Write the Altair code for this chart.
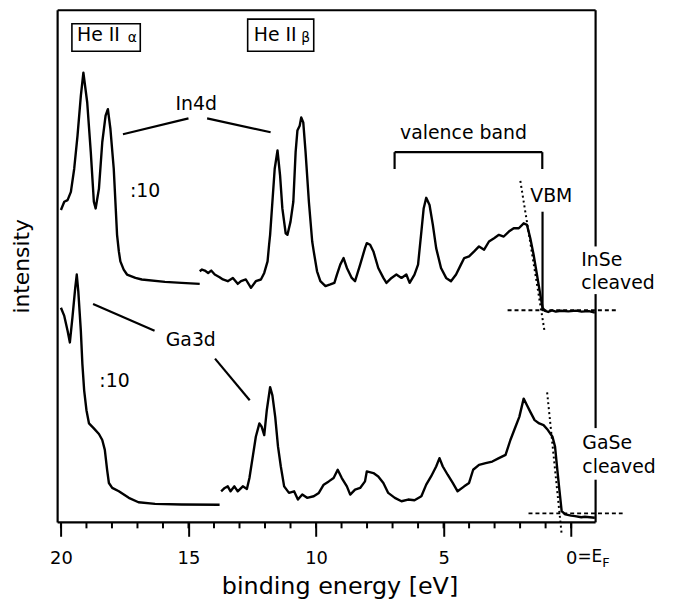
import altair as alt
import pandas as pd

FONT = "DejaVu Sans"

# axis ranges (binding energy in eV, intensity in arbitrary units)
X_MIN, X_MAX = -0.96, 20.13
Y_MIN, Y_MAX = 0, 516

# ---- spectra: (binding energy, intensity) ----
inse_core = [(20.00, 314.7), (19.87, 323), (19.74, 324.7), (19.61, 333), (19.48, 356.3), (19.35, 389.7),
             (19.22, 429.7), (19.12, 453), (18.97, 423), (18.83, 373), (18.71, 323), (18.64, 316.3),
             (18.51, 336.3), (18.38, 383), (18.25, 409.7), (18.16, 416.3), (18.06, 396.3), (17.93, 356.3),
             (17.80, 289.7), (17.73, 273), (17.67, 263), (17.54, 254.7), (17.41, 249.7), (17.08, 246.3),
             (16.83, 244.7), (15.92, 242.3), (15.27, 241.3), (14.56, 240.3)]

inse_vb = [(14.56, 253), (14.47, 254.7), (14.36, 253.7), (14.23, 251.3), (14.11, 253.7), (13.97, 249.7),
           (13.78, 247), (13.65, 244.7), (13.46, 243), (13.26, 246.3), (13.07, 240.3), (12.94, 243),
           (12.75, 244.7), (12.55, 236.3), (12.36, 243), (12.16, 244.7), (12.03, 251.3), (11.90, 263),
           (11.84, 279.7), (11.80, 289.7), (11.71, 323), (11.62, 356.3), (11.51, 374.7), (11.41, 349.7),
           (11.32, 316.3), (11.19, 291.3), (11.12, 289.7), (11.00, 303), (10.89, 323), (10.80, 373),
           (10.73, 394.7), (10.64, 399.7), (10.58, 408), (10.50, 403), (10.41, 373), (10.28, 323),
           (10.15, 283), (10.09, 273), (9.96, 253), (9.83, 243), (9.63, 238), (9.44, 239.7), (9.28, 241.3),
           (9.18, 249.7), (9.05, 259.7), (8.92, 266.3), (8.79, 256.3), (8.60, 246.3), (8.47, 243),
           (8.27, 259.7), (8.08, 276.3), (8.01, 281.3), (7.88, 279.7), (7.75, 273), (7.56, 256.3),
           (7.36, 246.3), (7.24, 241.3), (7.04, 246.3), (6.85, 249.7), (6.65, 246.3), (6.46, 249.7),
           (6.33, 241.3), (6.14, 249.7), (6.00, 259.7), (5.87, 293), (5.78, 316.3), (5.68, 327),
           (5.55, 319.7), (5.42, 299.7), (5.29, 276.3), (5.10, 256.3), (4.90, 246.3), (4.71, 243),
           (4.51, 249.7), (4.32, 259.7), (4.19, 266.3), (4.00, 268), (3.80, 273), (3.61, 278),
           (3.41, 274.7), (3.22, 283), (3.02, 286.3), (2.83, 289.7), (2.64, 288), (2.44, 293),
           (2.25, 296.3), (2.05, 296.3), (1.86, 301.3), (1.73, 299.7), (1.60, 286.3), (1.47, 269.7),
           (1.34, 249.7), (1.21, 229.7), (1.12, 216.3), (1.02, 213), (0.90, 212), (0.75, 213.5),
           (0.60, 212.3), (0.40, 213.2), (0.11, 212.6), (-0.20, 213.3), (-0.41, 212.3), (-0.70, 212.8),
           (-0.93, 211.3)]

gase_core = [(20.00, 216.3), (19.87, 208), (19.74, 193), (19.65, 181.3), (19.55, 206.3), (19.44, 236.3),
             (19.38, 249.7), (19.32, 233), (19.22, 193), (19.16, 159.7), (19.09, 133), (19.00, 113),
             (18.90, 99.7), (18.71, 94.7), (18.51, 89), (18.38, 83), (18.28, 73), (18.19, 53),
             (18.12, 39.7), (17.99, 34.7), (17.73, 31.3), (17.34, 24.7), (16.96, 20.3), (16.31, 18.7),
             (15.27, 18), (13.78, 17.7)]

gase_vb = [(13.72, 31.3), (13.58, 34.7), (13.46, 36.3), (13.35, 31.3), (13.20, 36.3), (13.07, 31.3),
           (12.87, 36.3), (12.71, 33.7), (12.61, 44.7), (12.48, 66.3), (12.36, 86.3), (12.22, 99.7),
           (12.13, 96.3), (12.03, 88), (11.93, 113), (11.80, 136.3), (11.71, 128), (11.60, 106.3),
           (11.49, 76.3), (11.38, 56.3), (11.25, 36.3), (11.06, 29.7), (10.86, 31.3), (10.71, 23),
           (10.54, 28), (10.35, 24.7), (10.09, 26.3), (9.89, 29.7), (9.70, 38), (9.50, 41.3), (9.31, 44.7),
           (9.15, 53), (8.99, 44.7), (8.79, 36.3), (8.66, 28), (8.47, 33), (8.27, 34.7), (8.08, 41.3),
           (8.01, 51.3), (7.75, 49.7), (7.56, 46.3), (7.36, 39.7), (7.17, 29.7), (6.91, 24.7),
           (6.65, 21.3), (6.39, 23), (6.14, 22.3), (5.87, 26.3), (5.68, 38), (5.49, 46.3), (5.29, 56.3),
           (5.16, 64.7), (5.03, 56.3), (4.84, 48), (4.64, 39.7), (4.45, 31.3), (4.19, 36.3), (4.00, 39.7),
           (3.84, 53), (3.61, 58), (3.35, 59.7), (3.09, 61.3), (2.83, 64.7), (2.57, 68), (2.38, 83),
           (2.18, 96.3), (2.03, 106.3), (1.86, 124.7), (1.73, 118), (1.60, 111.3), (1.43, 103),
           (1.25, 99.7), (1.08, 98), (0.91, 93), (0.73, 86.3), (0.63, 76.3), (0.54, 53), (0.46, 33),
           (0.37, 11.3), (0.23, 8), (0.00, 6.8), (-0.15, 6.3), (-0.40, 5.2), (-0.54, 5.7), (-0.93, 4.7)]

# ---- axis ticks ----
major_ticks = [20, 15, 10, 5, 0]
minor_ticks = list(range(0, 21))

# ---- annotation segments (x, y, x2, y2) ----
solid_segments = [(17.57, 391, 15.00, 407), (14.27, 407, 11.78, 393),
                  (18.74, 220, 16.33, 193), (13.96, 165, 12.60, 123),
                  (6.92, 373, 1.13, 373), (6.92, 373, 6.92, 356), (1.13, 373, 1.13, 356),
                  (1.12, 313, 1.12, 213)]
dotted_segments = [(1.99, 344, 1.05, 194), (0.94, 131, 0.37, -12)]
dashed_segments = [(2.49, 213.7, -1.79, 213.7), (1.67, 9, -2.02, 9)]
frame_segments = [(X_MAX, Y_MIN, X_MIN, Y_MIN), (X_MAX, Y_MAX, X_MIN, Y_MAX),
                  (X_MAX, Y_MIN, X_MAX, Y_MAX),
                  (X_MIN, 0, X_MIN, 43), (X_MIN, 95, X_MIN, 230), (X_MIN, 278, X_MIN, Y_MAX)]
boxes = [(19.57, 474.7, 16.89, 502.3), (12.68, 474.7, 10.09, 507)]

# ---- texts (text, x, y, size) ----
left_texts = [("He II", 19.37, 485, 19), ("α", 17.38, 484, 14),
              ("He II", 12.44, 485, 19), ("β", 10.58, 484, 14),
              ("VBM", 1.60, 323, 19),
              ("InSe", -0.40, 258, 19), ("cleaved", -0.40, 235, 19),
              ("GaSe", -0.44, 74, 19), ("cleaved", -0.44, 50, 19),
              ("=E", -0.25, -40, 17), ("F", -1.22, -45, 13)]
center_texts = [("In4d", 14.70, 415, 19), (":10", 16.70, 328, 19), ("Ga3d", 14.91, 178, 19),
                (":10", 17.90, 136.3, 19), ("valence band", 4.22, 386.3, 19)]
ytitle = [("intensity", 21.54, 258, 22)]

# ---- build tables ----
rows = []
for name, pts in [("InSe core", inse_core), ("InSe vb", inse_vb), ("GaSe core", gase_core), ("GaSe vb", gase_vb)]:
    for i, (e, v) in enumerate(pts):
        rows.append({"seg": name, "i": i, "E": e, "I": v})
curves = pd.DataFrame(rows)

def segdf(segs):
    return pd.DataFrame(segs, columns=["x", "y", "x2", "y2"])

def textdf(t):
    return pd.DataFrame(t, columns=["text", "x", "y", "size"])

xscale = alt.Scale(domain=[X_MIN, X_MAX], reverse=True, nice=False, zero=False)
yscale = alt.Scale(domain=[Y_MIN, Y_MAX], nice=False, zero=False)
xaxis = alt.Axis(values=major_ticks, tickSize=14, tickWidth=2, tickColor="black", domain=False, grid=False,
                 labelFont=FONT, labelFontSize=18, labelColor="black", labelPadding=27,
                 labelBaseline="alphabetic", labelFlush=False, labelOverlap=False,
                 title="binding energy [eV]", titleFont=FONT, titleFontSize=24, titleFontWeight="normal",
                 titleColor="black", titleX=284, titleY=72, titleAlign="center", titleBaseline="alphabetic")

def X(f):
    return alt.X(f, type="quantitative", scale=xscale, axis=xaxis)

def Y(f):
    return alt.Y(f, type="quantitative", scale=yscale, axis=None)

lines = alt.Chart(curves).mark_line(color="black", strokeWidth=2.4, strokeJoin="round").encode(
    x=X("E"), y=Y("I"), detail="seg:N", order="i:Q")

def rules(segs, **kw):
    return alt.Chart(segdf(segs)).mark_rule(color="black", **kw).encode(
        x=X("x"), y=Y("y"), x2="x2:Q", y2="y2:Q")

solid = rules(solid_segments, strokeWidth=2.2)
dotted = rules(dotted_segments, strokeWidth=2, strokeDash=[2, 3])
dashed = rules(dashed_segments, strokeWidth=1.8, strokeDash=[4, 3])
frame = rules(frame_segments, strokeWidth=2.2)

minor = alt.Chart(pd.DataFrame({"x": minor_ticks})).mark_rule(color="black", strokeWidth=2).encode(
    x=X("x"), y=alt.Y("y0:Q", scale=yscale, axis=None), y2="y1:Q"
).transform_calculate(y0="0", y1="-6")

box = alt.Chart(segdf(boxes)).mark_rect(fill="white", stroke="black", strokeWidth=1.6).encode(
    x=X("x"), y=Y("y"), x2="x2:Q", y2="y2:Q")

def texts(t, align, **kw):
    return alt.Chart(textdf(t)).mark_text(font=FONT, color="black", align=align, baseline="alphabetic", **kw).encode(
        x=X("x"), y=Y("y"), text="text:N", size=alt.Size("size:Q", scale=None, legend=None))

tl = texts(left_texts, "left")
tc = texts(center_texts, "center")
ty = alt.Chart(textdf(ytitle)).mark_text(font=FONT, color="black", align="center", baseline="middle", angle=270).encode(
    x=X("x"), y=Y("y"), text="text:N", size=alt.Size("size:Q", scale=None, legend=None))

chart = alt.layer(lines, solid, dotted, dashed, minor, box, tl, tc, ty, frame).properties(
    width=542, height=516,
    autosize=alt.AutoSizeParams(type="none"),
    padding={"left": 50, "top": 0, "right": 80, "bottom": 80},
    background="white",
).configure_view(stroke=None)

chart.save("out.html", embed_options={"renderer": "svg", "actions": False})
